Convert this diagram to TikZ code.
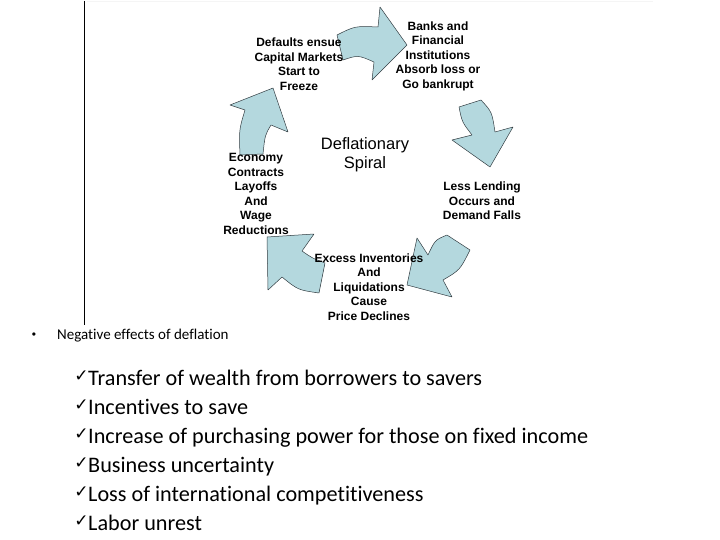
\documentclass[tikz,border=0pt]{standalone}
\usepackage{fontspec}
\setmainfont{Liberation Sans}
\newfontfamily\calib[Ligatures=NoCommon]{Carlito}
\newfontfamily\dejav{DejaVu Sans}
\definecolor{arrfill}{RGB}{180,216,222}
\definecolor{arrline}{RGB}{50,60,65}
\begin{document}
\begin{tikzpicture}[x=1pt,y=-1pt,
  arr/.style={fill=arrfill,draw=arrline,line width=0.5pt,line join=round},
  lbl/.style={align=center,font=\bfseries\fontsize{12}{14.5}\selectfont,inner sep=0pt},
  item/.style={anchor=base west,font=\calib\fontsize{22.2}{26}\selectfont,inner sep=0pt}]
\useasboundingbox (0,0) rectangle (720,540);
\draw[gray!8,line width=1pt] (87,2) -- (653,2);
\draw[black,line width=0.9pt] (84,1) -- (84,325);
% arrows
\path[arr] (337,35) .. controls (355,26) .. (378,27) -- (380,7) -- (407,45) -- (372,80) -- (374,62) .. controls (358,55) .. (343,60) -- cycle;
\path[arr] (459,107) -- (481,100) .. controls (492,112) .. (495,132) -- (513,127) -- (490,167) -- (452,140) -- (472,135) .. controls (462,122) .. cycle;
\path[arr] (470,250) -- (447,235) .. controls (435,240) .. (428,255) -- (417,238) -- (407,285) -- (452,297) -- (443,280) .. controls (460,270) .. cycle;
\path[arr] (325,263) -- (319,293) .. controls (298,290) .. (282,277) -- (268,290) -- (267,237) -- (314,234) -- (302,251) .. controls (312,258) .. cycle;
\path[arr] (240,155) -- (263,154) .. controls (265,135) .. (271,125) -- (288,132) -- (273,88) -- (230,105) -- (245,110) .. controls (239,130) .. cycle;
% labels
\node[lbl] (defaults) at (299,64) {Defaults ensue\\Capital Markets\\Start to\\Freeze};
\node[lbl] (banks) at (438,56) {Banks and\\Financial\\Institutions\\Absorb loss or\\Go bankrupt};
\node[align=center,font=\fontsize{16.5}{19}\selectfont,inner sep=0pt] (spiral) at (365,155) {Deflationary\\Spiral};
\node[lbl] (economy) at (256,194) {Economy\\Contracts\\Layoffs\\And\\Wage\\Reductions};
\node[lbl] (lending) at (482,201) {Less Lending\\Occurs and\\Demand Falls};
\node[lbl] (excess) at (369,287) {Excess Inventories\\And\\Liquidations\\Cause\\Price Declines};
% bottom text
\node[anchor=center,font=\fontsize{12}{12}\selectfont,inner sep=0pt] (bullet) at (34,336) {•};
\node[anchor=west,font=\calib\fontsize{15}{17}\selectfont,inner sep=0pt] (neg) at (57,336) {Negative effects of deflation};
\foreach \y/\t [count=\i] in {378/Transfer of wealth from borrowers to savers,
  407/Incentives to save,
  436/Increase of purchasing power for those on fixed income,
  465/Business uncertainty,
  494/Loss of international competitiveness,
  523/Labor unrest}{
  \node[anchor=base,font=\dejav\bfseries\fontsize{17}{17}\selectfont,inner sep=0pt] (ck\i) at (81.5,\y+3) {✓};
  \node[item] (it\i) at (88,\y+7) {\t};
}
\end{tikzpicture}
\end{document}
